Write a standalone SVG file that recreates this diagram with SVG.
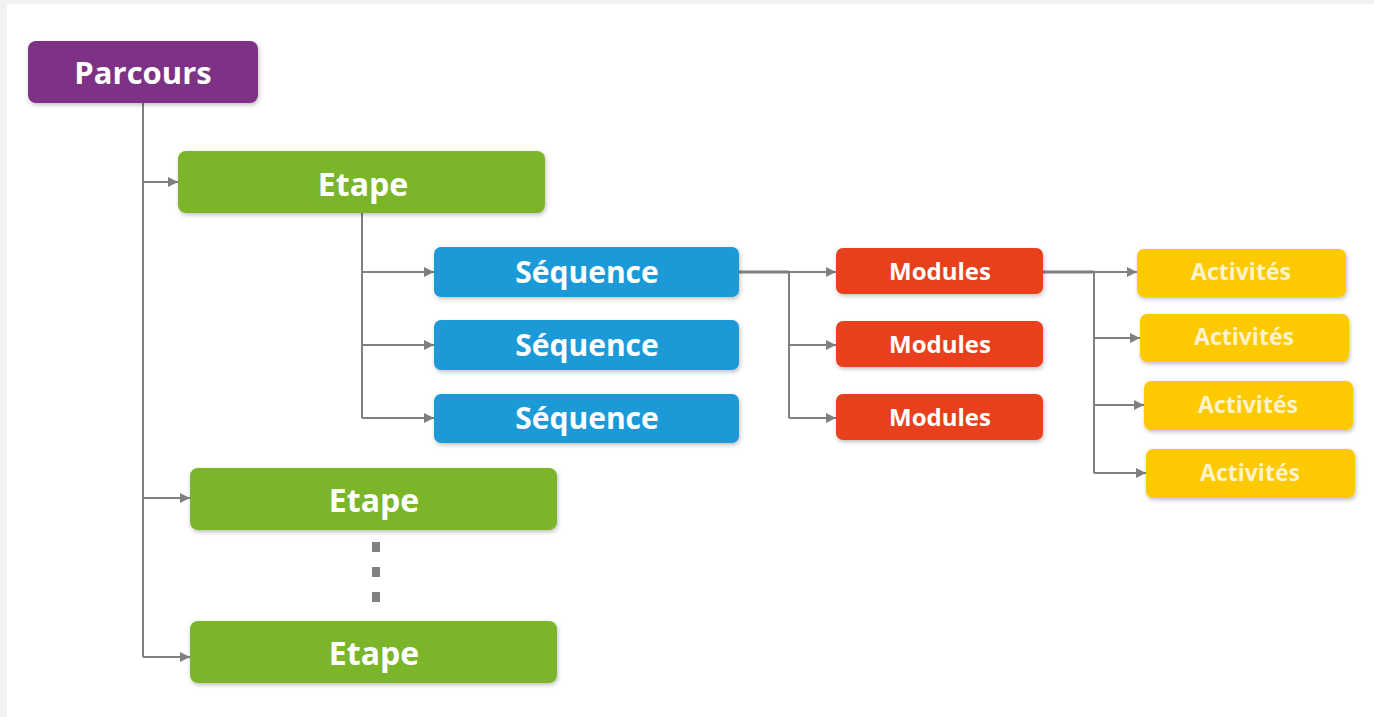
<svg xmlns="http://www.w3.org/2000/svg" width="1374" height="717" viewBox="0 0 1374 717">
<style>
.lbl{font-family:"Open Sans","Noto Sans","Liberation Sans",sans-serif;font-weight:bold;fill:#ffffff;text-anchor:middle;dominant-baseline:central}
.ln{stroke:#7f7f7f;stroke-width:2;fill:none}
.parc{fill:#7e3285}
.etape{fill:#7ab52b}
.seq{fill:#1a9ad8}
.mod{fill:#e8401b}
.act{fill:#fdc900}
</style>
<defs>
<marker id="arr" viewBox="0 0 10 10" refX="10" refY="5" markerWidth="5" markerHeight="5" orient="auto" markerUnits="strokeWidth">
<path d="M0,0 L10,5 L0,10 z" fill="#7f7f7f"/>
</marker>
<filter id="sh" x="-10%" y="-20%" width="120%" height="150%">
<feDropShadow dx="1" dy="2" stdDeviation="2" flood-color="#000" flood-opacity="0.25"/>
</filter>
</defs>
<rect x="0" y="0" width="1374" height="717" fill="#ffffff"/>
<rect x="0" y="0" width="1374" height="4" fill="#f2f2f2"/>
<rect x="0" y="0" width="7" height="717" fill="#f2f2f2"/>

<g id="connectors">
<path class="ln" d="M143,103 V657"/>
<path class="ln" d="M143,182 H178" marker-end="url(#arr)"/>
<path class="ln" d="M143,498 H190" marker-end="url(#arr)"/>
<path class="ln" d="M143,657 H190" marker-end="url(#arr)"/>
<path class="ln" d="M362,213 V418"/>
<path class="ln" d="M362,272 H434" marker-end="url(#arr)"/>
<path class="ln" d="M362,345 H434" marker-end="url(#arr)"/>
<path class="ln" d="M362,418 H434" marker-end="url(#arr)"/>
<path class="ln" d="M739,272 H789" style="stroke-width:3"/>
<path class="ln" d="M789,272 H836" marker-end="url(#arr)"/>
<path class="ln" d="M789,272 V418"/>
<path class="ln" d="M789,345 H836" marker-end="url(#arr)"/>
<path class="ln" d="M789,418 H836" marker-end="url(#arr)"/>
<path class="ln" d="M1043,272 H1094" style="stroke-width:3"/>
<path class="ln" d="M1094,272 H1137" marker-end="url(#arr)"/>
<path class="ln" d="M1094,272 V473"/>
<path class="ln" d="M1094,338 H1140" marker-end="url(#arr)"/>
<path class="ln" d="M1094,405 H1144" marker-end="url(#arr)"/>
<path class="ln" d="M1094,473 H1146" marker-end="url(#arr)"/>
</g>

<g id="dots" fill="#808080">
<rect x="372" y="542" width="8" height="10"/>
<rect x="372" y="567" width="8" height="10"/>
<rect x="372" y="592" width="8" height="10"/>
</g>

<g id="parcours"><rect class="parc" x="28" y="41" width="230" height="62" rx="8" filter="url(#sh)"/><text class="lbl" x="143" y="72" font-size="31">Parcours</text></g>

<g id="etape1"><rect class="etape" x="178" y="151" width="367" height="62" rx="8" filter="url(#sh)"/><text class="lbl" x="363" y="183" font-size="32">Etape</text></g>
<g id="etape2"><rect class="etape" x="190" y="468" width="367" height="62" rx="8" filter="url(#sh)"/><text class="lbl" x="374" y="499" font-size="32">Etape</text></g>
<g id="etape3"><rect class="etape" x="190" y="621" width="367" height="62" rx="8" filter="url(#sh)"/><text class="lbl" x="374" y="652" font-size="32">Etape</text></g>

<g id="sequence1"><rect class="seq" x="434" y="247" width="305" height="50" rx="7" filter="url(#sh)"/><text class="lbl" x="587" y="271" font-size="30">Séquence</text></g>
<g id="sequence2"><rect class="seq" x="434" y="320" width="305" height="50" rx="7" filter="url(#sh)"/><text class="lbl" x="587" y="344" font-size="30">Séquence</text></g>
<g id="sequence3"><rect class="seq" x="434" y="394" width="305" height="49" rx="7" filter="url(#sh)"/><text class="lbl" x="587" y="417" font-size="30">Séquence</text></g>

<g id="modules1"><rect class="mod" x="836" y="248" width="207" height="46" rx="7" filter="url(#sh)"/><text class="lbl" x="940" y="270" font-size="24">Modules</text></g>
<g id="modules2"><rect class="mod" x="836" y="321" width="207" height="46" rx="7" filter="url(#sh)"/><text class="lbl" x="940" y="343" font-size="24">Modules</text></g>
<g id="modules3"><rect class="mod" x="836" y="394" width="207" height="46" rx="7" filter="url(#sh)"/><text class="lbl" x="940" y="416" font-size="24">Modules</text></g>

<g id="activites1"><rect class="act" x="1137" y="249" width="209" height="48" rx="7" filter="url(#sh)"/><text class="lbl" x="1241" y="271" font-size="23" style="fill:#fff3cc">Activités</text></g>
<g id="activites2"><rect class="act" x="1140" y="314" width="209" height="48" rx="7" filter="url(#sh)"/><text class="lbl" x="1244" y="336" font-size="23" style="fill:#fff3cc">Activités</text></g>
<g id="activites3"><rect class="act" x="1144" y="381" width="209" height="49" rx="7" filter="url(#sh)"/><text class="lbl" x="1248" y="404" font-size="23" style="fill:#fff3cc">Activités</text></g>
<g id="activites4"><rect class="act" x="1146" y="449" width="209" height="49" rx="7" filter="url(#sh)"/><text class="lbl" x="1250" y="472" font-size="23" style="fill:#fff3cc">Activités</text></g>
</svg>
